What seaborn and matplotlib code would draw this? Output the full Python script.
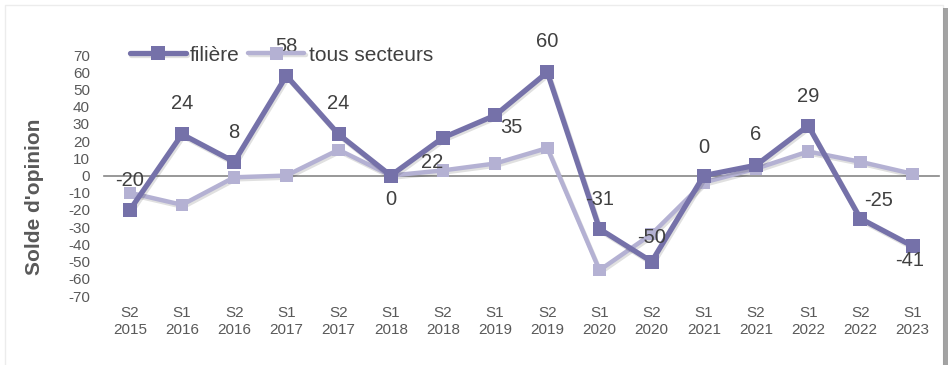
import numpy as np
import pandas as pd
import seaborn as sns
import matplotlib.pyplot as plt
import matplotlib.patheffects as pe
from matplotlib.patches import Rectangle

# data
periodes = ['S2\n2015', 'S1\n2016', 'S2\n2016', 'S1\n2017', 'S2\n2017', 'S1\n2018',
            'S2\n2018', 'S1\n2019', 'S2\n2019', 'S1\n2020', 'S2\n2020', 'S1\n2021',
            'S2\n2021', 'S1\n2022', 'S2\n2022', 'S1\n2023']
filiere = [-20, 24, 8, 58, 24, 0, 22, 35, 60, -31, -50, 0, 6, 29, -25, -41]
tous_secteurs = [-10, -17, -1, 0, 15, 0, 3, 7, 16, -55, -34, -4, 4, 14, 8, 1]

# label offsets (points) for the filière data labels
label_offsets = [(0, 21), (0, 22), (0, 21), (0, 21), (0, 22), (0, -17), (-8, -18), (12, -9),
                 (0, 22), (0, 21), (0, 17), (0, 20), (0, 22), (0, 21), (13, 13), (-2, -10)]

c_fil = '#7571a9'
c_tous = '#b4b1d3'

sns.set_style('white')
plt.rcParams['font.family'] = ['Liberation Sans', 'DejaVu Sans']
plt.rcParams['axes.unicode_minus'] = False

x = np.arange(len(periodes))
df = pd.DataFrame({'x': np.concatenate([x, x]),
                   'val': filiere + tous_secteurs,
                   'serie': ['filière'] * len(x) + ['tous secteurs'] * len(x)})

fig = plt.figure(figsize=(9.52, 3.65), dpi=100)
ax = fig.add_axes([0.109, 0.189, 0.877, 0.66])

shadow = [pe.SimpleLineShadow(offset=(1, -1.5), shadow_color='black', alpha=0.12), pe.Normal()]

sns.lineplot(data=df[df.serie == 'tous secteurs'], x='x', y='val', ax=ax, color=c_tous,
             lw=3.2, marker='s', markersize=9, markeredgewidth=0, label='tous secteurs',
             path_effects=shadow, zorder=3)
sns.lineplot(data=df[df.serie == 'filière'], x='x', y='val', ax=ax, color=c_fil,
             lw=3.8, marker='s', markersize=10, markeredgewidth=0, label='filière',
             path_effects=shadow, zorder=4)

for xi, v, off in zip(x, filiere, label_offsets):
    ax.annotate(str(v), (xi, v), xytext=off, textcoords='offset points',
                ha='center', va='center', fontsize=14.5, color='#404040', zorder=5)

ax.set_xlim(-0.5, len(x) - 0.5)
ax.set_ylim(-70, 70)
ax.set_yticks(range(-70, 71, 10))
ax.tick_params(axis='y', length=0, labelsize=11, labelcolor='#595959', pad=10)
ax.set_ylabel("Solde d'opinion", fontsize=15, fontweight='bold', color='#595959')
ax.yaxis.set_label_coords(-0.071, 0.41)
ax.set_xlabel('')

# axis line at zero with ticks, labels at the bottom
for s in ['top', 'right', 'left']:
    ax.spines[s].set_visible(False)
ax.spines['bottom'].set_position(('data', 0))
ax.spines['bottom'].set_color('#868686')
ax.spines['bottom'].set_linewidth(1.2)
ax.set_xticks(list(x) + [len(x) - 0.5])
ax.tick_params(axis='x', direction='inout', length=6, width=1.2, color='#868686', labelbottom=False)

sec = ax.secondary_xaxis('bottom')
sec.set_xticks(x, periodes)
sec.tick_params(length=0, labelsize=11, labelcolor='#595959', pad=7)
sec.spines['bottom'].set_visible(False)
for t in sec.get_xticklabels():
    t.set_linespacing(1.3)

handles, labels = ax.get_legend_handles_labels()
order = [labels.index('filière'), labels.index('tous secteurs')]
ax.legend([handles[i] for i in order], [labels[i] for i in order], loc='center left',
          bbox_to_anchor=(0.021, 1.0), ncol=2, frameon=False, fontsize=15,
          handlelength=2.7, handletextpad=0.2, columnspacing=0.4, labelcolor='#404040',
          borderaxespad=0)

# chart frame with a shadow on the right
fig.patches.append(Rectangle((5 / 952, -0.05), 938 / 952, 1.0 - 5 / 365 + 0.05,
                             transform=fig.transFigure, fill=False,
                             edgecolor='#ececec', lw=1, zorder=0))
fig.patches.append(Rectangle((943 / 952, -0.05), 5 / 952, 1.0 - 8 / 365 + 0.05,
                             transform=fig.transFigure, facecolor='#8c8c8c',
                             edgecolor='none', alpha=0.8, zorder=0))

fig.savefig('out.png', dpi=100)
